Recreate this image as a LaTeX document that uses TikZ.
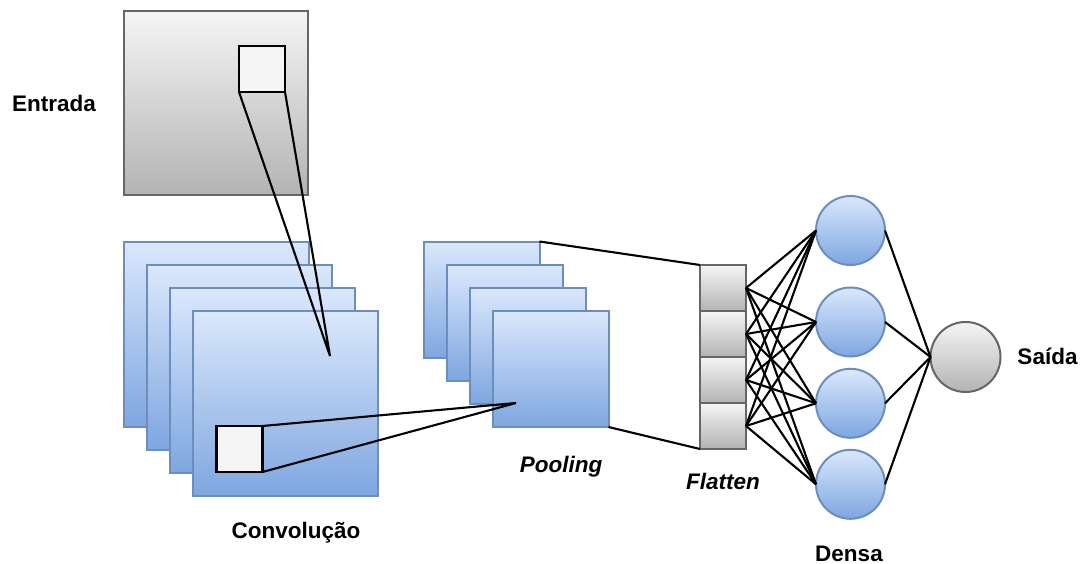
\documentclass[tikz,border=0pt]{standalone}
\usepackage{fontspec}
\setmainfont{Liberation Sans}
\definecolor{grayTop}{HTML}{F5F5F5}
\definecolor{grayBot}{HTML}{B3B3B3}
\definecolor{grayLine}{HTML}{666666}
\definecolor{blueTop}{HTML}{DAE8FC}
\definecolor{blueBot}{HTML}{7EA6E0}
\definecolor{blueLine}{HTML}{6C8EBF}
\begin{document}
\begin{tikzpicture}[x=1pt,y=-1pt,
  graybox/.style={rectangle, draw=grayLine, line width=2pt, top color=grayTop, bottom color=grayBot, inner sep=0pt, outer sep=0pt},
  fmap/.style={rectangle, draw=blueLine, line width=2pt, top color=blueTop, bottom color=blueBot, inner sep=0pt, outer sep=0pt, minimum size=#1},
  kernel/.style={rectangle, draw=black, line width=2.2pt, fill=grayTop, inner sep=0pt, outer sep=0pt, minimum size=46pt},
  cell/.style={graybox, minimum width=46pt, minimum height=46pt},
  neuron/.style={circle, draw=blueLine, line width=2pt, top color=blueTop, bottom color=blueBot, inner sep=0pt, outer sep=0pt, minimum size=69pt},
  outneuron/.style={circle, draw=grayLine, line width=2pt, top color=grayTop, bottom color=grayBot, inner sep=0pt, outer sep=0pt, minimum size=70pt},
  wire/.style={draw=black, line width=2.1pt},
  lbl/.style={anchor=base, font=\fontsize{22.5}{27}\selectfont\bfseries, inner sep=0pt},
  ilbl/.style={lbl, font=\fontsize{22.5}{27}\selectfont\bfseries\itshape}]
\useasboundingbox[fill=white] (0,0) rectangle (1081,564);

% input image with its receptive field
\node[graybox, minimum size=184pt] (input) at (216,103) {};
\node[kernel] (field) at (262,69) {};

% convolution feature maps
\node[fmap=185pt] (c1) at (216.5,334.5) {};
\node[fmap=185pt] (c2) at (239.5,357.5) {};
\node[fmap=185pt] (c3) at (262.5,380.5) {};
\node[fmap=185pt] (c4) at (285.5,403.5) {};
\node[kernel] (pfield) at (239.5,449) {};
\coordinate (convtip) at (330,356);

% pooling maps
\node[fmap=116pt] (p1) at (481.5,299.5) {};
\node[fmap=116pt] (p2) at (504.5,322.5) {};
\node[fmap=116pt] (p3) at (527.5,345.5) {};
\node[fmap=116pt] (p4) at (550.5,369) {};
\coordinate (pooltip) at (516,403);

% flattened vector
\node[cell] (f1) at (723,288) {};
\node[cell] (f2) at (723,334) {};
\node[cell] (f3) at (723,380) {};
\node[cell] (f4) at (723,426) {};

% dense layer and output
\node[neuron] (d1) at (850.5,230.5) {};
\node[neuron] (d2) at (850.5,322) {};
\node[neuron] (d3) at (850.5,403.3) {};
\node[neuron] (d4) at (850.5,484.3) {};
\node[outneuron] (out) at (965.5,357) {};

% connectors
\draw[wire] (field.south west) -- (convtip) -- (field.south east);
\draw[wire] (pfield.north east) -- (pooltip) -- (pfield.south east);
\draw[wire] (p1.north east) -- (f1.north west);
\draw[wire] (p4.south east) -- (f4.south west);
\foreach \i in {1,...,4}{
  \foreach \j in {1,...,4}{
    \draw[wire] (f\i.east) -- (d\j.west);
  }
  \draw[wire] (d\i.east) -- (out.west);
}

% labels
\node[lbl] (tin) at (54,112) {Entrada};
\node[lbl] (tconv) at (296,538) {Convolução};
\node[ilbl] (tpool) at (561,472) {Pooling};
\node[ilbl] (tflat) at (723,489) {Flatten};
\node[lbl] (tdense) at (849,561) {Densa};
\node[lbl] (tout) at (1047.5,364) {Saída};
\end{tikzpicture}
\end{document}
